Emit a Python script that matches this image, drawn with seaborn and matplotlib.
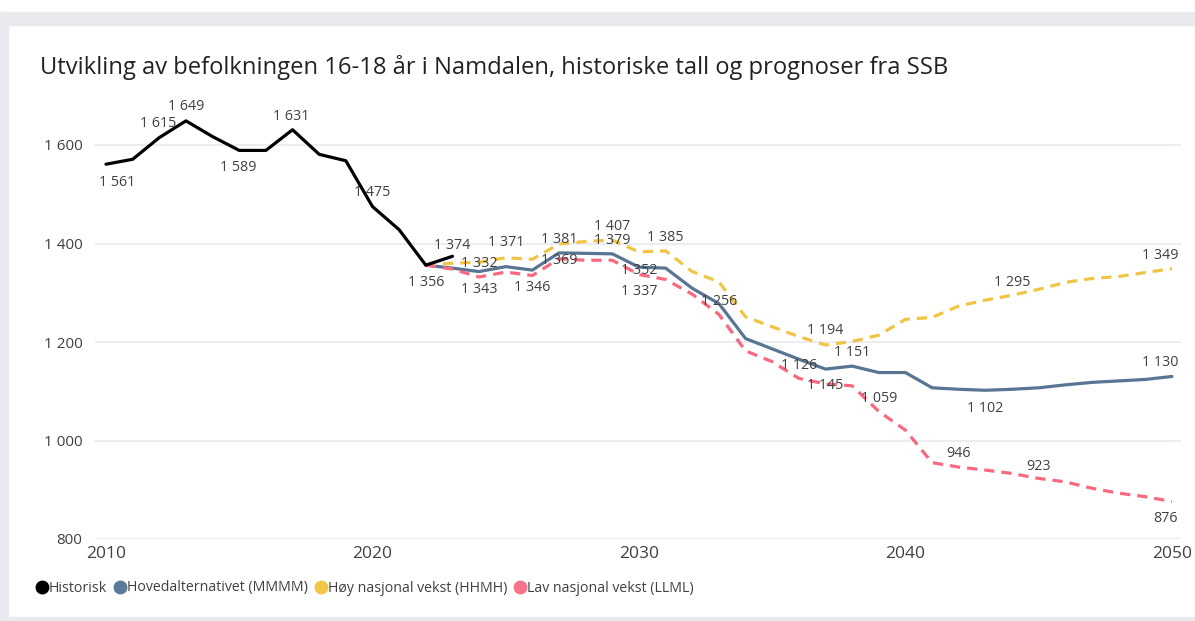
import pandas as pd
import matplotlib.pyplot as plt
from matplotlib.lines import Line2D
from matplotlib.patches import Rectangle
import seaborn as sns

# data
hist_years = list(range(2010, 2024))
historisk = [1561, 1571, 1615, 1649, 1617, 1589, 1589, 1631, 1581, 1568, 1475, 1428, 1356, 1374]

prog_years = list(range(2022, 2051))
hoved = [1356, 1350, 1343, 1353, 1346, 1381, 1380, 1379, 1352, 1350, 1309, 1278, 1207, 1186, 1165,
         1145, 1151, 1138, 1138, 1107, 1104, 1102, 1104, 1107, 1113, 1118, 1121, 1124, 1130]
hoy = [1356, 1360, 1362, 1371, 1368, 1399, 1404, 1407, 1383, 1385, 1343, 1322, 1251, 1231, 1211,
       1194, 1201, 1214, 1246, 1250, 1273, 1285, 1295, 1307, 1321, 1329, 1333, 1341, 1349]
lav = [1356, 1348, 1332, 1342, 1335, 1369, 1366, 1366, 1337, 1327, 1297, 1256, 1182, 1160, 1126,
       1115, 1111, 1059, 1021, 955, 946, 940, 933, 923, 916, 903, 893, 886, 876]

series_names = ['Historisk', 'Hovedalternativet (MMMM)', 'Høy nasjonal vekst (HHMH)', 'Lav nasjonal vekst (LLML)']
colors = ['#000000', '#587593', '#f2c443', '#f8687f']
legend_colors = ['#000000', '#5b7a99', '#f2c646', '#f7728a']

# labelled points: year -> text offset in pixels (dx, dy, image down positive)
label_offsets = {
    'Historisk': {2010: (11, 18), 2012: (-1, -14), 2013: (0, -14), 2015: (-1, 17), 2017: (-1, -13),
                  2020: (0, -14), 2022: (0, 17), 2023: (0, -11)},
    'Hovedalternativet (MMMM)': {2024: (0, 18), 2026: (0, 17), 2027: (0, -13), 2029: (0, -13),
                                 2030: (0, 3), 2037: (0, 16), 2038: (0, -14), 2043: (0, 18),
                                 2050: (-12, -14)},
    'Høy nasjonal vekst (HHMH)': {2025: (0, -15), 2029: (0, -14), 2031: (0, -13), 2037: (0, -14),
                                  2044: (0, -13), 2050: (-12, -13)},
    'Lav nasjonal vekst (LLML)': {2024: (0, -13), 2027: (0, 2), 2030: (0, 17), 2033: (0, -13),
                                  2036: (0, -13), 2039: (0, -13), 2042: (0, -14), 2045: (0, -12),
                                  2050: (-6, 17)},
}

df = pd.concat([
    pd.DataFrame({'år': hist_years, 'antall': historisk, 'serie': series_names[0]}),
    pd.DataFrame({'år': prog_years, 'antall': hoved, 'serie': series_names[1]}),
    pd.DataFrame({'år': prog_years, 'antall': hoy, 'serie': series_names[2]}),
    pd.DataFrame({'år': prog_years, 'antall': lav, 'serie': series_names[3]}),
])

sns.set_theme(style='white')
plt.rcParams['font.family'] = ['Open Sans', 'DejaVu Sans']

fig = plt.figure(figsize=(11.95, 6.21), dpi=100)
ax = fig.add_axes([95 / 1195, 82 / 621, (1181 - 95) / 1195, (539 - 95.75) / 621])

dash = (3.2, 2.2)
sns.lineplot(data=df, x='år', y='antall', hue='serie', style='serie',
             palette=dict(zip(series_names, colors)),
             dashes={series_names[0]: '', series_names[1]: '', series_names[2]: dash, series_names[3]: dash},
             linewidth=2.3, legend=False, ax=ax)
# keep the historical line on top
for line in ax.lines[:1]:
    line.set_zorder(5)

def fmt(v):
    return f'{v:,}'.replace(',', ' ')

values = {series_names[0]: dict(zip(hist_years, historisk)),
          series_names[1]: dict(zip(prog_years, hoved)),
          series_names[2]: dict(zip(prog_years, hoy)),
          series_names[3]: dict(zip(prog_years, lav))}
for name, offs in label_offsets.items():
    for yr, (dx, dy) in offs.items():
        v = values[name][yr]
        ax.annotate(fmt(v), (yr, v), xytext=(dx, -dy), textcoords='offset pixels',
                    ha='center', va='center', fontsize=10.3, color='#404040', zorder=6)

ax.set_xlim(2009.587, 2050.34)
ax.set_ylim(800, 1700)
ax.set_xticks([2010, 2020, 2030, 2040, 2050])
ax.set_yticks([800, 1000, 1200, 1400, 1600])
ax.set_yticklabels([fmt(v) for v in [800, 1000, 1200, 1400, 1600]])
ax.tick_params(axis='both', length=0, labelcolor='#404040')
ax.tick_params(axis='y', pad=9, labelsize=11)
ax.tick_params(axis='x', pad=5, labelsize=12.5)
ax.grid(axis='y', color='#e8eaed', linewidth=1.2)
ax.grid(axis='x', visible=False)
ax.set_xlabel('')
ax.set_ylabel('')
for s in ax.spines.values():
    s.set_visible(False)
ax.patch.set_alpha(0)

fig.text(40 / 1195, 1 - 68 / 621, 'Utvikling av befolkningen 16-18 år i Namdalen, historiske tall og prognoser fra SSB',
         fontsize=17.1, color='#222222', va='center', ha='left')

handles = [Line2D([], [], marker='o', linestyle='', color=c, markersize=9) for c in legend_colors]
fig.legend(handles, series_names, loc='center left', bbox_to_anchor=(22 / 1195, 1 - 588 / 621),
           ncol=4, frameon=False, fontsize=10.2, handletextpad=0.0, columnspacing=0.4,
           handlelength=1.0, labelcolor='#404040')

# grey frame around the panel
frame = '#e8eaed'
fig.patches.append(Rectangle((3 / 1195, 1 - 25 / 621), 1, 13 / 621, transform=fig.transFigure,
                             color=frame, zorder=0))
fig.patches.append(Rectangle((0, 0), 8 / 1195, 1 - 12 / 621, transform=fig.transFigure,
                             color=frame, zorder=0))
fig.patches.append(Rectangle((0, 0), 1, 4 / 621, transform=fig.transFigure,
                             color=frame, zorder=0))

fig.savefig('out.png', dpi=100)
